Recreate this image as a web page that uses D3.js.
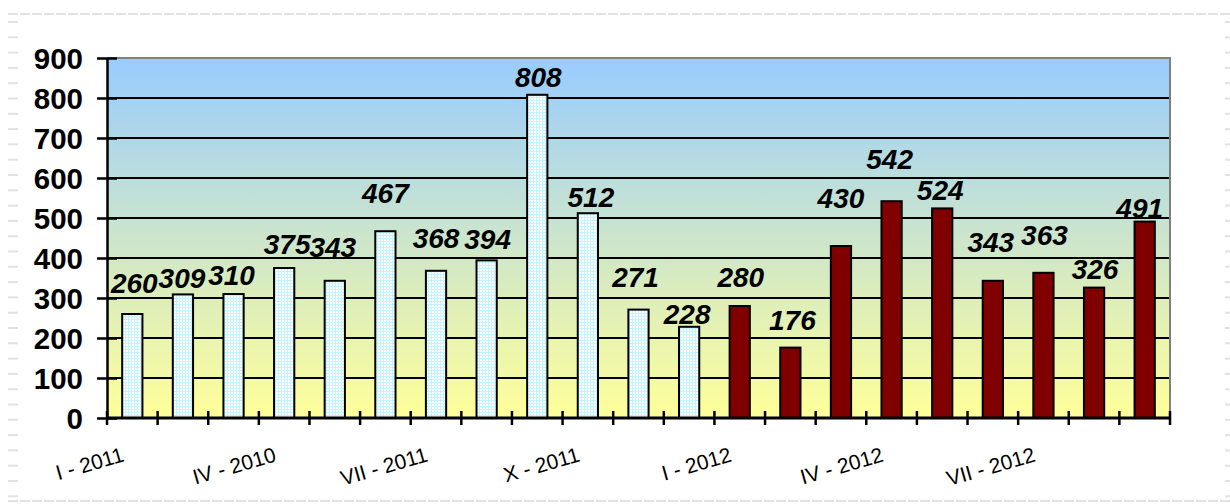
<!DOCTYPE html>
<html>
<head>
<meta charset="utf-8">
<script src="https://cdn.jsdelivr.net/npm/d3@7"></script>
<style>
  body { margin: 0; background: #fff; }
  svg { display: block; font-family: "Liberation Sans", Arial, sans-serif; }
</style>
</head>
<body>
<div id="chart"></div>
<script>
// months (labels only every 3rd one are drawn, as in the original)
const categories = [
  "I - 2011", "II - 2011", "III - 2011", "IV - 2010", "V - 2011", "VI - 2011",
  "VII - 2011", "VIII - 2011", "IX - 2011", "X - 2011", "XI - 2011", "XII - 2011",
  "I - 2012", "II - 2012", "III - 2012", "IV - 2012", "V - 2012", "VI - 2012",
  "VII - 2012", "VIII - 2012", "IX - 2012"
];
const values2011 = [260, 309, 310, 375, 343, 467, 368, 394, 808, 512, 271, 228];
const values2012 = [280, 176, 430, 542, 524, 343, 363, 326, 491];
const yTicks = [0, 100, 200, 300, 400, 500, 600, 700, 800, 900];

// hand nudges for the value labels, like the dragged labels in the source
const labelNudge = [
  [2, -21], [-1, -6], [-2, -9], [3, -14], [-2, -24], [0, -28], [0, -23], [1, -11],
  [1, -8], [3, -6], [-3, -23], [-2, -3],
  [1, -19], [2, -18], [0, -38], [-2, -32], [-2, -8], [-2, -29], [1, -28], [1, -9], [-5, -4]
];

const data = categories.map((c, i) => ({
  cat: c,
  value: i < values2011.length ? values2011[i] : values2012[i - values2011.length],
  series: i < values2011.length ? "2011" : "2012"
}));

const W = 1230, H = 504;
const margin = { top: 58, right: 60, bottom: 86, left: 107 };
const width = W - margin.left - margin.right;
const height = H - margin.top - margin.bottom;

const root = d3.select("#chart").append("svg")
  .attr("width", W)
  .attr("height", H);

// faint slide frame
const frame = root.append("g").attr("stroke", "#e2e2e2").attr("stroke-width", 2);
frame.append("line").attr("x1", 8).attr("x2", W).attr("y1", 14).attr("y2", 14)
  .attr("stroke-dasharray", "10,2");
frame.append("line").attr("x1", 8).attr("x2", W).attr("y1", 501).attr("y2", 501)
  .attr("stroke-dasharray", "10,2");
d3.range(22, 500, 15.3).forEach(y => {
  frame.append("line").attr("x1", 8).attr("x2", 18).attr("y1", y).attr("y2", y);
  frame.append("line").attr("x1", 1225).attr("x2", W).attr("y1", y).attr("y2", y);
});

const defs = root.append("defs");
const grad = defs.append("linearGradient")
  .attr("id", "bg").attr("x1", 0).attr("y1", 0).attr("x2", 0).attr("y2", 1);
grad.append("stop").attr("offset", "0%").attr("stop-color", "#99ccff");
grad.append("stop").attr("offset", "100%").attr("stop-color", "#ffff99");

const pat = defs.append("pattern")
  .attr("id", "grid").attr("width", 3).attr("height", 3)
  .attr("patternUnits", "userSpaceOnUse");
pat.append("rect").attr("width", 3).attr("height", 3).attr("fill", "#ffffff");
pat.append("rect").attr("width", 3).attr("height", 1).attr("fill", "#c4f4ff");
pat.append("rect").attr("width", 1).attr("height", 3).attr("fill", "#c4f4ff");

const svg = root.append("g")
  .attr("transform", `translate(${margin.left},${margin.top})`);

const x = d3.scaleBand()
  .domain(categories)
  .range([0, width])
  .paddingInner(0.6)
  .paddingOuter(0.3);

const y = d3.scaleLinear()
  .domain([0, 900])
  .range([height, 0]);

// plot area
svg.append("rect")
  .attr("width", width)
  .attr("height", height)
  .attr("fill", "url(#bg)");

// gridlines
svg.append("g")
  .selectAll("line")
  .data(yTicks.filter(d => d > 0 && d < 900))
  .enter().append("line")
  .attr("x1", 0).attr("x2", width)
  .attr("y1", d => y(d)).attr("y2", d => y(d))
  .attr("stroke", "#000").attr("stroke-width", 2);

// top and right border
svg.append("path")
  .attr("d", `M0,${y(900)}H${width}V${height}`)
  .attr("fill", "none").attr("stroke", "#808080").attr("stroke-width", 2);

// bars
svg.append("g")
  .selectAll("rect")
  .data(data)
  .enter().append("rect")
  .attr("x", d => x(d.cat))
  .attr("y", d => y(d.value))
  .attr("width", x.bandwidth())
  .attr("height", d => y(0) - y(d.value))
  .attr("fill", d => d.series === "2011" ? "url(#grid)" : "#800000")
  .attr("stroke", "#000")
  .attr("stroke-width", 2);

// value labels
svg.append("g")
  .selectAll("text")
  .data(data)
  .enter().append("text")
  .attr("x", (d, i) => x(d.cat) + x.bandwidth() / 2 + labelNudge[i][0])
  .attr("y", (d, i) => y(d.value) + labelNudge[i][1])
  .attr("text-anchor", "middle")
  .style("font-size", "28px")
  .style("font-weight", "bold")
  .style("font-style", "italic")
  .style("fill", "#000")
  .text(d => d.value);

// y axis
const yAxis = svg.append("g")
  .call(d3.axisLeft(y).tickValues(yTicks).tickSize(10).tickSizeOuter(0).tickPadding(14));
yAxis.select(".domain").attr("stroke-width", 2.5);
yAxis.selectAll(".tick line").attr("stroke-width", 2.5).attr("x2", -10).attr("x1", 10);
yAxis.selectAll(".tick text")
  .style("font-size", "29.5px")
  .style("font-weight", "bold")
  .style("font-family", "'Liberation Sans', Arial, sans-serif")
  .attr("dy", "0.36em")
  .attr("fill", "#000");

// x axis: ticks at band edges
const xAxis = svg.append("g").attr("transform", `translate(0,${height})`);
xAxis.append("line")
  .attr("x1", 0).attr("x2", width)
  .attr("stroke", "#000").attr("stroke-width", 3);
xAxis.selectAll(".edge")
  .data(d3.range(categories.length + 1))
  .enter().append("line")
  .attr("class", "edge")
  .attr("x1", i => i * x.step()).attr("x2", i => i * x.step())
  .attr("y1", -7).attr("y2", 7)
  .attr("stroke", "#000").attr("stroke-width", 2.5);

xAxis.selectAll(".lbl")
  .data(categories.filter((c, i) => i % 3 === 0))
  .enter().append("text")
  .attr("class", "lbl")
  .attr("transform", d => `translate(${x(d) + x.bandwidth() / 2 - 7},43) rotate(-16)`)
  .attr("text-anchor", "end")
  .style("font-size", "21px")
  .style("fill", "#000")
  .text(d => d);
</script>
</body>
</html>
